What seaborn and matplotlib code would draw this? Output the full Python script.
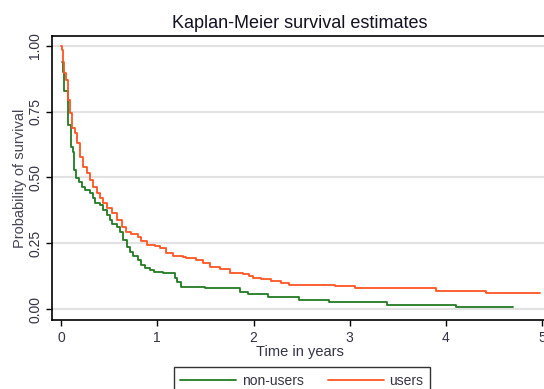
import numpy as np
import pandas as pd
import matplotlib
matplotlib.use("Agg")
import matplotlib.pyplot as plt
import seaborn as sns

#----------------------------------
# data (KM step points)
#----------------------------------
users_time = [0.0, 0.007, 0.017, 0.031, 0.052, 0.069, 0.093, 0.117, 0.145, 0.162,
              0.197, 0.231, 0.266, 0.301, 0.335, 0.370, 0.404, 0.439, 0.473, 0.525,
              0.577, 0.629, 0.680, 0.732, 0.801, 0.836, 0.888, 0.974, 1.026, 1.095,
              1.164, 1.267, 1.302, 1.406, 1.475, 1.544, 1.648, 1.751, 1.889, 1.958,
              1.993, 2.079, 2.183, 2.287, 2.366, 2.850, 3.057, 3.893, 4.418, 4.98]
users_surv = [1.0, 0.985, 0.940, 0.896, 0.871, 0.795, 0.744, 0.687, 0.668, 0.630,
              0.579, 0.541, 0.516, 0.490, 0.465, 0.440, 0.421, 0.402, 0.383, 0.364,
              0.338, 0.313, 0.294, 0.285, 0.275, 0.258, 0.243, 0.239, 0.231, 0.212,
              0.202, 0.199, 0.193, 0.186, 0.174, 0.159, 0.151, 0.138, 0.133, 0.126,
              0.119, 0.113, 0.106, 0.100, 0.0925, 0.087, 0.081, 0.068, 0.060, 0.060]

nonusers_time = [0.007, 0.017, 0.031, 0.076, 0.100, 0.128, 0.138, 0.152, 0.190, 0.214,
                 0.249, 0.301, 0.335, 0.352, 0.404, 0.439, 0.473, 0.508, 0.525, 0.577,
                 0.611, 0.646, 0.687, 0.715, 0.750, 0.801, 0.836, 0.870, 0.922, 0.964,
                 1.060, 1.181, 1.205, 1.250, 1.492, 1.855, 1.941, 2.155, 2.477, 2.788,
                 3.382, 4.100, 4.694]
nonusers_surv = [0.940, 0.902, 0.830, 0.700, 0.617, 0.598, 0.529, 0.497, 0.484, 0.465,
                 0.452, 0.440, 0.421, 0.402, 0.395, 0.376, 0.357, 0.338, 0.323, 0.313,
                 0.294, 0.262, 0.237, 0.218, 0.202, 0.186, 0.167, 0.155, 0.148, 0.142,
                 0.138, 0.117, 0.104, 0.085, 0.079, 0.066, 0.056, 0.047, 0.034, 0.028,
                 0.015, 0.009, 0.009]

groups = ["non-users", "users"]
colors = ["#237a23", "#ff5522"]
x_ticks = [0, 1, 2, 3, 4, 5]
y_ticks = [0.0, 0.25, 0.5, 0.75, 1.0]
y_ticklabels = ["0.00", "0.25", "0.50", "0.75", "1.00"]

df = pd.concat([
    pd.DataFrame({"time": nonusers_time, "surv": nonusers_surv, "group": groups[0]}),
    pd.DataFrame({"time": users_time, "surv": users_surv, "group": groups[1]}),
])

#----------------------------------
# style
#----------------------------------
sns.set_style("white")
plt.rcParams["font.family"] = ["Liberation Sans", "DejaVu Sans"]

fig = plt.figure(figsize=(5.44, 3.89), dpi=100)
ax = fig.add_axes([52/544, 69/389, 496/544, 284/389])

sns.lineplot(data=df, x="time", y="surv", hue="group", hue_order=groups,
             palette=colors, drawstyle="steps-post", linewidth=1.3,
             estimator=None, ax=ax)

ax.set_xlim(-0.094, 5.06)
ax.set_ylim(-0.041, 1.037)
ax.set_xticks(x_ticks)
ax.set_yticks(y_ticks)
ax.set_yticklabels(y_ticklabels, rotation=90, va="center")
ax.tick_params(axis="both", direction="out", length=4, width=1, color="black",
               labelsize=10, labelcolor="#333344", bottom=True, left=True)
ax.tick_params(axis="y", pad=3)
ax.tick_params(axis="x", pad=4)

ax.yaxis.grid(True, color="#e2e2e2", linewidth=1.5)
ax.xaxis.grid(False)
for side in ["left", "bottom", "top"]:
    ax.spines[side].set_color("black")
    ax.spines[side].set_linewidth(1.2)
ax.spines["right"].set_visible(False)

ax.set_title("Kaplan-Meier survival estimates", fontsize=13, color="#111122", pad=6)
ax.set_xlabel("Time in years", fontsize=10.5, color="#333344", labelpad=0)
ax.set_ylabel("Probability of survival", fontsize=10.5, color="#444455", labelpad=1)

handles, labels = ax.get_legend_handles_labels()
ax.get_legend().remove()
leg = fig.legend(handles, labels, loc="upper center", bbox_to_anchor=(302/544, 1 - 367/389),
                 ncol=2, frameon=True, fancybox=False, fontsize=10, handlelength=4.0,
                 handletextpad=0.4, columnspacing=1.8, borderpad=0.5, borderaxespad=0)
leg.get_frame().set_edgecolor("black")
leg.get_frame().set_linewidth(1.0)
for t in leg.get_texts():
    t.set_color("#333344")
for h in leg.get_lines():
    h.set_linewidth(1.3)

fig.savefig("out.png", dpi=100)
